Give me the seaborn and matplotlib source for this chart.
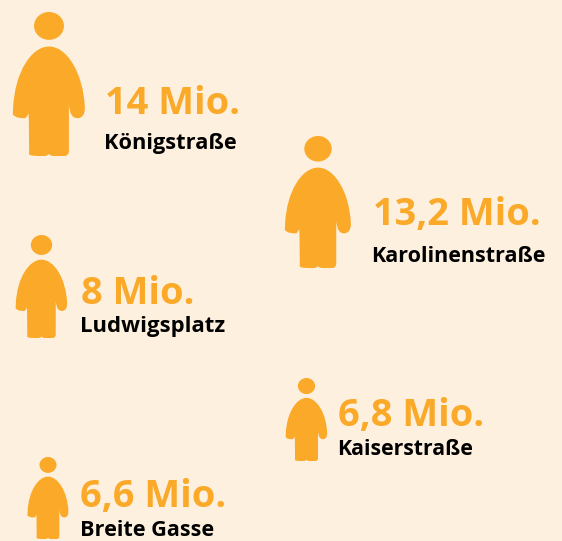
import matplotlib
matplotlib.use('Agg')
import matplotlib.pyplot as plt
import pandas as pd
import seaborn as sns
from matplotlib.path import Path

# data
strassen = ['Königstraße', 'Karolinenstraße', 'Ludwigsplatz', 'Kaiserstraße', 'Breite Gasse']
besucher = [14, 13.2, 8, 6.8, 6.6]
labels = ['14 Mio.', '13,2 Mio.', '8 Mio.', '6,8 Mio.', '6,6 Mio.']

# layout in pixels of the picture
fig_x = [49, 318, 41.5, 306.5, 48]
fig_y = [84, 202, 286.5, 419.5, 498]
fig_h = [144, 132, 103, 83, 82]
label_x = [105, 373, 81, 338, 80]
label_y = [114, 225, 304, 426, 507]
name_x = [104.5, 371.5, 80, 337.5, 79.5]
name_y = [149, 262, 332, 455, 536]
name_size = [15.7, 15.5, 15.9, 15.3, 15.6]

ORANGE = '#FAA928'
BG = '#FEF0DE'


def person():
    # right half of the body, centre x=147
    start = (147, 137)
    right = [
        (Path.CURVE4, [(200, 137), (250, 215), (255, 320)]),
        (Path.CURVE4, [(256, 342), (246, 353), (233, 353)]),
        (Path.CURVE4, [(218, 353), (210, 342), (207, 312)]),
        (Path.LINETO, [(207, 452)]),
        (Path.CURVE4, [(207, 462), (201, 467), (192, 467)]),
        (Path.LINETO, [(162, 467)]),
        (Path.CURVE4, [(155, 467), (151, 465), (147, 461)]),
    ]
    verts = [start]
    codes = [Path.MOVETO]
    for code, pts in right:
        verts += pts
        codes += [code] * len(pts)
    # mirror for the left half
    mirrored = [(294 - x, y) for x, y in verts[::-1]][1:]
    verts += mirrored
    codes += codes[1:]
    verts.append(start)
    codes.append(Path.CLOSEPOLY)
    # head
    cx, cy, rx, ry = 147, 75, 45, 42
    k = 0.5523
    verts += [(cx + rx, cy),
              (cx + rx, cy - k * ry), (cx + k * rx, cy - ry), (cx, cy - ry),
              (cx - k * rx, cy - ry), (cx - rx, cy - k * ry), (cx - rx, cy),
              (cx - rx, cy + k * ry), (cx - k * rx, cy + ry), (cx, cy + ry),
              (cx + k * rx, cy + ry), (cx + rx, cy + k * ry), (cx + rx, cy),
              (cx + rx, cy)]
    codes += [Path.MOVETO] + [Path.CURVE4] * 12 + [Path.CLOSEPOLY]
    # scale to -1..1 with y up
    verts = [((x - 147) / 217, (250 - y) / 217) for x, y in verts]
    return Path(verts, codes)


plt.rcParams['font.family'] = ['Open Sans', 'DejaVu Sans']

df = pd.DataFrame({'strasse': strassen, 'wert': besucher, 'x': fig_x, 'y': fig_y})
# marker height in points is sqrt(s)
groessen = {w: (h * 0.72) ** 2 for w, h in zip(besucher, fig_h)}

fig = plt.figure(figsize=(5.62, 5.41), dpi=100, facecolor=BG)
ax = fig.add_axes([0, 0, 1, 1])
ax.set_facecolor(BG)

sns.scatterplot(data=df, x='x', y='y', size='wert', sizes=groessen, marker=person(),
                color=ORANGE, linewidth=0, legend=False, ax=ax)

for i in range(len(strassen)):
    ax.text(label_x[i], label_y[i], labels[i], color=ORANGE, fontsize=27.4, fontweight='bold', va='baseline')
    ax.text(name_x[i], name_y[i], strassen[i], color='black', fontsize=name_size[i], fontweight='bold', va='baseline')

ax.set_xlim(0, 562)
ax.set_ylim(541, 0)
ax.axis('off')

fig.savefig('out.png', dpi=100, facecolor=BG)
